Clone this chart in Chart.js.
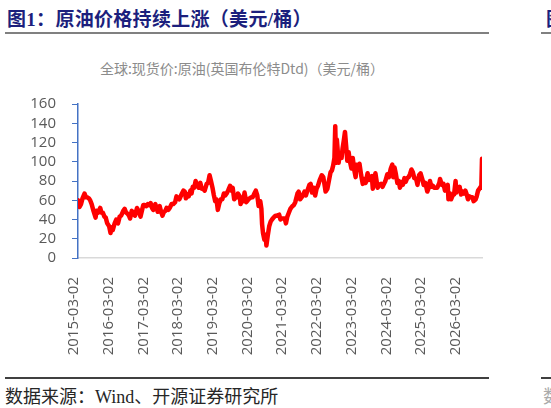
<!DOCTYPE html>
<html>
<head>
<meta charset="utf-8">
<script src="https://cdn.jsdelivr.net/npm/chart.js@4.4.1/dist/chart.umd.min.js"></script>
<style>
  html, body { margin: 0; padding: 0; background: #fff; }
  body { width: 551px; height: 408px; position: relative; overflow: hidden; }
  .title { position: absolute; left: 7px; top: 4px; font: bold 19px "Liberation Serif", "Noto Sans CJK SC", serif; letter-spacing: 0.3px; color: #1c1f7d; white-space: nowrap; }
  .rule { position: absolute; height: 2px; }
  .subtitle { position: absolute; left: 42px; width: 400px; top: 58px; text-align: center; font: 14px "Noto Sans CJK SC", sans-serif; color: #8c8c8c; white-space: nowrap; }
  .source { position: absolute; left: 5px; top: 382px; font: 18px "Liberation Serif", "Noto Sans CJK SC", serif; color: #262626; white-space: nowrap; }
  #box { position: absolute; left: 0; top: 40px; width: 551px; height: 330px; }
</style>
</head>
<body>
<div class="title">图1：原油价格持续上涨（美元/桶）</div>
<div class="title" style="left:546px">图2：</div>
<div class="rule" style="left:5px;top:32px;width:484px;background:#808080"></div>
<div class="rule" style="left:541px;top:32px;width:10px;background:#808080"></div>
<div class="subtitle">全球:现货价:原油(英国布伦特Dtd)（美元/桶）</div>
<div id="box"><canvas id="oilChart"></canvas></div>
<div class="rule" style="left:5px;top:377px;width:484px;background:#404040"></div>
<div class="rule" style="left:541px;top:377px;width:10px;background:#404040"></div>
<div class="source">数据来源：Wind、开源证券研究所</div>
<div class="source" style="left:543px;color:#aaa">数</div>

<script>
const tickLabels = ['2015-03-02', '2016-03-02', '2017-03-02', '2018-03-02', '2019-03-02', '2020-03-02',
  '2021-03-02', '2022-03-02', '2023-03-02', '2024-03-02', '2025-03-02', '2026-03-02'];

const dates = [
  '2015-03-02', '2015-03-17', '2015-04-01', '2015-04-16', '2015-05-06', '2015-05-20', '2015-06-03', '2015-06-18',
  '2015-07-01', '2015-07-16', '2015-08-03', '2015-08-24', '2015-09-02', '2015-09-17', '2015-10-09', '2015-10-22',
  '2015-11-05', '2015-11-20', '2015-12-03', '2015-12-18',
  '2016-01-06', '2016-01-20', '2016-02-02', '2016-02-11', '2016-03-01', '2016-03-17', '2016-04-04', '2016-04-20',
  '2016-05-05', '2016-05-26', '2016-06-09', '2016-06-24', '2016-07-08', '2016-07-22', '2016-08-02', '2016-08-19',
  '2016-09-06', '2016-09-20', '2016-10-10', '2016-10-25', '2016-11-14', '2016-11-30', '2016-12-12', '2016-12-28',
  '2017-01-11', '2017-01-26', '2017-02-09', '2017-02-23', '2017-03-09', '2017-03-22', '2017-04-11', '2017-04-27',
  '2017-05-05', '2017-05-24', '2017-06-07', '2017-06-21', '2017-07-06', '2017-07-20', '2017-08-01', '2017-08-18',
  '2017-09-01', '2017-09-20', '2017-10-06', '2017-10-25', '2017-11-07', '2017-11-22', '2017-12-06', '2017-12-27',
  '2018-01-15', '2018-01-29', '2018-02-09', '2018-02-26', '2018-03-09', '2018-03-26', '2018-04-06', '2018-04-19',
  '2018-05-03', '2018-05-17', '2018-06-01', '2018-06-18', '2018-07-03', '2018-07-17', '2018-08-02', '2018-08-15',
  '2018-09-04', '2018-09-18', '2018-10-03', '2018-10-17', '2018-11-01', '2018-11-13', '2018-11-28', '2018-12-11',
  '2018-12-24',
  '2019-01-08', '2019-01-24', '2019-02-07', '2019-02-22', '2019-03-08', '2019-03-22', '2019-04-05', '2019-04-25',
  '2019-05-09', '2019-05-21', '2019-06-05', '2019-06-20', '2019-07-03', '2019-07-12', '2019-07-31', '2019-08-07',
  '2019-08-22', '2019-09-04', '2019-09-16', '2019-10-03', '2019-10-18', '2019-11-05', '2019-11-20', '2019-12-05',
  '2019-12-23',
  '2020-01-06', '2020-01-21', '2020-02-03', '2020-02-20', '2020-03-02', '2020-03-09', '2020-03-18', '2020-04-01',
  '2020-04-13', '2020-04-21', '2020-05-04', '2020-05-19', '2020-06-03', '2020-06-16', '2020-07-01', '2020-07-21',
  '2020-08-04', '2020-08-26', '2020-09-08', '2020-09-21', '2020-10-06', '2020-10-21', '2020-11-02', '2020-11-16',
  '2020-12-01', '2020-12-16',
  '2021-01-06', '2021-01-20', '2021-02-03', '2021-02-25', '2021-03-09', '2021-03-23', '2021-04-07', '2021-04-23',
  '2021-05-06', '2021-05-20', '2021-06-07', '2021-06-24', '2021-07-06', '2021-07-20', '2021-08-03', '2021-08-20',
  '2021-09-03', '2021-09-17', '2021-10-04', '2021-10-25', '2021-11-09', '2021-11-26', '2021-12-02', '2021-12-20',
  '2022-01-05', '2022-01-20', '2022-02-03', '2022-02-15', '2022-02-28', '2022-03-08', '2022-03-16', '2022-03-24',
  '2022-04-11', '2022-04-21', '2022-05-10', '2022-05-20', '2022-06-01', '2022-06-13', '2022-06-24', '2022-07-06',
  '2022-07-19', '2022-08-02', '2022-08-16', '2022-08-29', '2022-09-14', '2022-09-27', '2022-10-07', '2022-10-20',
  '2022-11-04', '2022-11-21', '2022-12-07', '2022-12-22',
  '2023-01-05', '2023-01-24', '2023-02-06', '2023-02-21', '2023-03-07', '2023-03-17', '2023-04-03', '2023-04-12',
  '2023-05-04', '2023-05-18', '2023-06-05', '2023-06-22', '2023-07-06', '2023-07-20', '2023-08-08', '2023-08-23',
  '2023-09-12', '2023-09-27', '2023-10-06', '2023-10-19', '2023-11-02', '2023-11-16', '2023-12-01', '2023-12-12',
  '2023-12-27',
  '2024-01-10', '2024-01-26', '2024-02-07', '2024-02-22', '2024-03-07', '2024-03-21', '2024-04-05', '2024-04-19',
  '2024-05-03', '2024-05-22', '2024-06-04', '2024-06-20', '2024-07-05', '2024-07-22', '2024-08-05', '2024-08-22',
  '2024-09-10', '2024-09-25', '2024-10-07', '2024-10-21', '2024-11-05', '2024-11-18', '2024-12-04', '2024-12-19',
  '2025-01-08', '2025-01-15', '2025-02-03', '2025-02-19', '2025-03-05', '2025-03-20', '2025-04-02', '2025-04-09',
  '2025-04-24', '2025-05-05', '2025-05-21', '2025-06-04', '2025-06-19', '2025-06-26', '2025-07-10', '2025-07-29',
  '2025-08-13', '2025-08-28', '2025-09-10', '2025-09-25', '2025-10-08', '2025-10-20', '2025-11-05', '2025-11-20',
  '2025-12-04', '2025-12-16',
  '2026-01-05', '2026-01-15', '2026-01-29', '2026-02-11', '2026-02-24', '2026-03-02', '2026-03-09'
];

const brent = [
  60, 53, 56, 62, 67, 63, 63, 62,
  60, 56, 49, 42, 49, 47, 52, 47,
  47, 43, 42, 36,
  33, 26, 32, 29, 36, 40, 36, 43,
  44, 49, 51, 47, 46, 44, 41, 49,
  46, 44, 52, 49, 43, 50, 55, 55,
  54, 56, 55, 57, 52, 50, 56, 51,
  48, 54, 48, 44, 48, 49, 52, 50,
  52, 56, 56, 58, 64, 62, 61, 66,
  70, 69, 62, 66, 64, 70, 67, 74,
  73, 80, 76, 73, 78, 72, 72, 70,
  77, 78, 86, 80, 73, 66, 59, 61,
  50,
  57, 61, 61, 67, 65, 67, 70, 75,
  70, 73, 61, 63, 63, 67, 64, 56,
  60, 59, 68, 58, 60, 62, 63, 63,
  67,
  70, 65, 54, 59, 51, 35, 26, 19,
  24, 13, 23, 33, 38, 40, 42, 44,
  44, 45, 40, 41, 41, 41, 36, 43,
  47, 51,
  54, 55, 58, 67, 69, 61, 63, 66,
  69, 65, 71, 76, 77, 68, 73, 65,
  72, 75, 81, 86, 84, 73, 69, 72,
  81, 89, 91, 96, 104, 137, 99, 123,
  99, 109, 104, 114, 122, 131, 117, 101,
  110, 100, 93, 104, 91, 84, 97, 92,
  98, 86, 77, 82,
  78, 88, 81, 84, 85, 72, 84, 88,
  73, 76, 77, 74, 77, 80, 87, 84,
  93, 97, 84, 94, 87, 78, 80, 73,
  79,
  76, 83, 79, 83, 84, 87, 92, 89,
  83, 82, 76, 86, 88, 82, 76, 78,
  69, 73, 80, 74, 75, 73, 73, 73,
  78, 82, 76, 77, 70, 72, 76, 61,
  67, 61, 65, 66, 80, 68, 71, 74,
  66, 69, 67, 70, 66, 61, 64, 63,
  63, 59,
  61, 64, 70, 72, 74, 73, 103
];

function toYear(d) {
  const [y, m, day] = d.split('-').map(Number);
  const t = Date.UTC(y, m - 1, day);
  const start = Date.UTC(y, 0, 1);
  const end = Date.UTC(y + 1, 0, 1);
  return y + (t - start) / (end - start);
}

const points = dates.map((d, i) => ({ x: toYear(d), y: brent[i] }));

Chart.defaults.font.family = '"Open Sans", sans-serif';
Chart.defaults.font.size = 15;
Chart.defaults.color = '#595959';

const ctx = document.getElementById('oilChart').getContext('2d');
const oilChart = new Chart(ctx, {
  type: 'line',
  data: {
    datasets: [{
      label: '布伦特Dtd',
      data: points,
      borderColor: '#ff0000',
      borderWidth: 4.5,
      borderJoinStyle: 'round',
      borderCapStyle: 'round',
      pointRadius: 0,
      tension: 0,
      fill: false,
    }]
  },
  options: {
    responsive: true,
    maintainAspectRatio: false,
    animation: false,
    layout: { padding: { left: 0, right: 69, top: 64, bottom: 0 } },
    plugins: { legend: { display: false }, tooltip: { enabled: false } },
    scales: {
      x: {
        type: 'linear',
        min: toYear(dates[0]),
        max: toYear(dates[dates.length - 1]),
        grid: { display: false },
        border: { color: '#d9d9d9', width: 1.5 },
        ticks: {
          autoSkip: false,
          minRotation: 90,
          maxRotation: 90,
          padding: 11,
          callback: (value, index) => tickLabels[index],
        },
        afterBuildTicks: (scale) => {
          // excel spreads the date labels a bit tighter than the data itself
          const span = scale.max - scale.min;
          scale.ticks = tickLabels.map((lab, i) => ({ value: scale.min + span * (i * 0.0859 - 0.01) }));
        },
        afterFit: (scale) => { scale.height = 112; },
      },
      y: {
        min: 0,
        max: 160,
        grid: { drawOnChartArea: false, drawTicks: true, tickLength: 6, color: '#4472c4' },
        border: { color: '#4472c4', width: 1.5 },
        ticks: { stepSize: 20, padding: 16, autoSkip: false },
        afterFit: (scale) => { scale.width = 78; },
      }
    }
  }
});
</script>
</body>
</html>
